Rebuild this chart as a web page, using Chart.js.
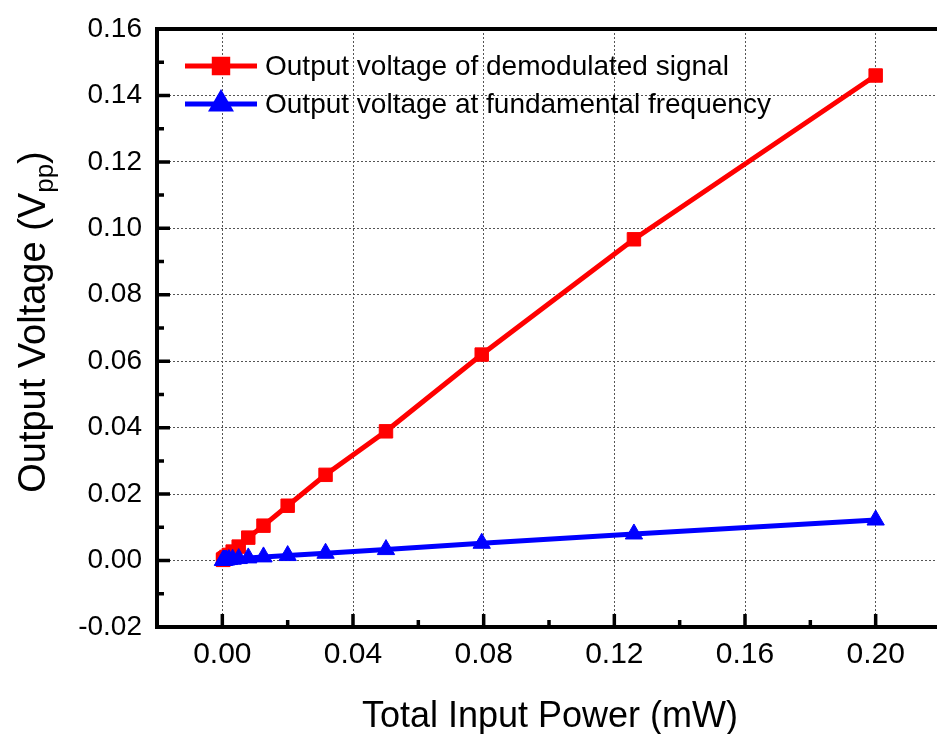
<!DOCTYPE html>
<html>
<head>
<meta charset="utf-8">
<script src="https://cdn.jsdelivr.net/npm/chart.js@4.4.1/dist/chart.umd.min.js"></script>
<style>
  html, body { margin: 0; padding: 0; background: #fff; overflow: hidden; }
  #wrap { width: 952px; height: 734px; }
</style>
</head>
<body>
<div id="wrap"><canvas id="c" width="952" height="734"></canvas></div>
<script>
// ---- data ----
const powerMw = [0.2, 0.126, 0.0794, 0.0501, 0.0316, 0.02, 0.0126, 0.00794, 0.00501, 0.00316, 0.002, 0.00126, 0.000794, 0.000501, 0.000316, 0.0002];
const demodVpp = [0.146, 0.0967, 0.062, 0.0389, 0.0258, 0.0165, 0.0105, 0.0069, 0.0042, 0.0027, 0.0017, 0.0011, 0.0007, 0.00045, 0.0003, 0.0002];
const fundVpp = [0.0122, 0.0080, 0.0052, 0.0033, 0.0022, 0.0015, 0.0011, 0.0008, 0.0006, 0.0004, 0.0003, 0.0002, 0.00015, 0.0001, 0.00007, 0.00005];
const seriesNames = ['Output voltage of demodulated signal', 'Output voltage at fundamental frequency'];
const xTitle = 'Total Input Power (mW)';
const yTitleMain = 'Output Voltage (V';
const yTitleSub = 'pp';
const yTitleEnd = ')';

const FONT = '"Liberation Sans", Arial, Helvetica, sans-serif';

const toXY = (xs, ys) => xs.map((x, i) => ({ x: x, y: ys[i] }));

const decorPlugin = {
  id: 'decor',
  afterDraw(chart) {
    const ctx = chart.ctx;
    const xs = chart.scales.x, ys = chart.scales.y;
    const area = chart.chartArea;
    ctx.save();
    ctx.strokeStyle = '#000';
    ctx.lineCap = 'butt';
    // axis lines
    ctx.lineWidth = 4;
    ctx.beginPath();
    ctx.moveTo(area.left, area.top - 2);
    ctx.lineTo(area.left, area.bottom + 2);
    ctx.moveTo(area.left - 2, area.bottom);
    ctx.lineTo(chart.width, area.bottom);
    ctx.moveTo(area.left - 2, area.top);
    ctx.lineTo(chart.width, area.top);
    ctx.stroke();
    // inward ticks
    ctx.lineWidth = 3.5;
    ctx.beginPath();
    xs.ticks.forEach(t => {
      const k = Math.round(t.value * 100);
      if (k <= -2 || k >= 22) return;
      const px = xs.getPixelForValue(t.value);
      const len = (k % 4 === 0) ? 13 : 7;
      ctx.moveTo(px, area.bottom);
      ctx.lineTo(px, area.bottom - len);
    });
    ys.ticks.forEach(t => {
      const k = Math.round(t.value * 100);
      if (k <= -2 || k >= 16) return;
      const py = ys.getPixelForValue(t.value);
      const len = (k % 2 === 0) ? 13 : 7;
      ctx.moveTo(area.left, py);
      ctx.lineTo(area.left + len, py);
    });
    ctx.stroke();

    // legend
    const legendRows = [66, 104];
    chart.data.datasets.forEach((ds, i) => {
      const y = legendRows[i];
      ctx.strokeStyle = ds.borderColor;
      ctx.lineWidth = ds.borderWidth;
      ctx.beginPath();
      ctx.moveTo(185, y);
      ctx.lineTo(257, y);
      ctx.stroke();
      Chart.helpers.drawPoint(ctx, {
        pointStyle: ds.pointStyle, radius: ds.pointRadius, borderWidth: 1, rotation: 0
      }, 221, y);
      ctx.fillStyle = ds.pointBackgroundColor;
      ctx.strokeStyle = ds.pointBorderColor;
      ctx.lineWidth = 1;
      ctx.fill();
      ctx.stroke();
      ctx.fillStyle = '#000';
      ctx.font = '28px ' + FONT;
      ctx.textAlign = 'left';
      ctx.textBaseline = 'middle';
      ctx.fillText(ds.label, 265, y + 1);
    });

    // x title
    ctx.fillStyle = '#000';
    ctx.font = '36px ' + FONT;
    ctx.textAlign = 'center';
    ctx.textBaseline = 'alphabetic';
    ctx.fillText(xTitle, 550, 727);

    // y title with subscript
    const fs = 38, fsSub = 26;
    ctx.translate(0, 322);
    ctx.rotate(-Math.PI / 2);
    ctx.font = fs + 'px ' + FONT;
    const w1 = ctx.measureText(yTitleMain).width;
    const w3 = ctx.measureText(yTitleEnd).width;
    ctx.font = fsSub + 'px ' + FONT;
    const w2 = ctx.measureText(yTitleSub).width;
    const total = w1 + w2 + w3;
    let x0 = -total / 2;
    const base = 45;
    ctx.textAlign = 'left';
    ctx.font = fs + 'px ' + FONT;
    ctx.fillText(yTitleMain, x0, base);
    ctx.font = fsSub + 'px ' + FONT;
    ctx.fillText(yTitleSub, x0 + w1, base + 8);
    ctx.font = fs + 'px ' + FONT;
    ctx.fillText(yTitleEnd, x0 + w1 + w2, base);
    ctx.restore();
  }
};

const gridColor = (majorEvery, lo, hi) => (c) => {
  const v = c.tick ? c.tick.value : null;
  if (v === null) return 'rgba(0,0,0,0)';
  const k = Math.round(v * 100);
  if (k % majorEvery !== 0 || k <= lo || k >= hi) return 'rgba(0,0,0,0)';
  return '#555';
};

new Chart(document.getElementById('c'), {
  type: 'line',
  data: {
    datasets: [
      {
        label: seriesNames[0],
        data: toXY(powerMw, demodVpp),
        borderColor: '#ff0000',
        backgroundColor: '#ff0000',
        pointBackgroundColor: '#ff0000',
        pointBorderColor: '#ff0000',
        pointStyle: 'rect',
        pointRadius: 9.5,
        pointBorderWidth: 1,
        borderWidth: 5,
        tension: 0,
        order: 1
      },
      {
        label: seriesNames[1],
        data: toXY(powerMw, fundVpp),
        borderColor: '#0000ff',
        backgroundColor: '#0000ff',
        pointBackgroundColor: '#0000ff',
        pointBorderColor: '#0000ff',
        pointStyle: 'triangle',
        pointRadius: 10,
        pointBorderWidth: 1,
        borderWidth: 5,
        tension: 0,
        order: 0
      }
    ]
  },
  options: {
    responsive: false,
    animation: false,
    layout: { padding: { top: 26, left: 0, right: 0, bottom: 0 } },
    plugins: { legend: { display: false }, tooltip: { enabled: false } },
    scales: {
      x: {
        type: 'linear',
        min: -0.02,
        max: 0.22,
        afterFit: (s) => { s.height = 107; },
        ticks: {
          stepSize: 0.02,
          autoSkip: false,
          maxRotation: 0,
          padding: 10,
          color: '#000',
          font: { family: FONT, size: 30 },
          callback: (v) => {
            const k = Math.round(v * 100);
            return (k % 4 === 0 && k >= 0 && k <= 20) ? (k / 100).toFixed(2) : '';
          }
        },
        grid: { color: gridColor(4, -1, 21), lineWidth: 1, drawTicks: false },
        border: { display: false, dash: [2, 2] }
      },
      y: {
        type: 'linear',
        min: -0.02,
        max: 0.16,
        afterFit: (s) => { s.width = 157; },
        ticks: {
          stepSize: 0.01,
          autoSkip: false,
          padding: 15,
          color: '#000',
          font: { family: FONT, size: 28, lineHeight: 1 },
          callback: (v) => {
            const k = Math.round(v * 100);
            return (k % 2 === 0) ? (k / 100).toFixed(2) : '';
          }
        },
        grid: { color: gridColor(2, -2, 16), lineWidth: 1, drawTicks: false },
        border: { display: false, dash: [2, 2] }
      }
    }
  },
  plugins: [decorPlugin]
});
</script>
</body>
</html>
